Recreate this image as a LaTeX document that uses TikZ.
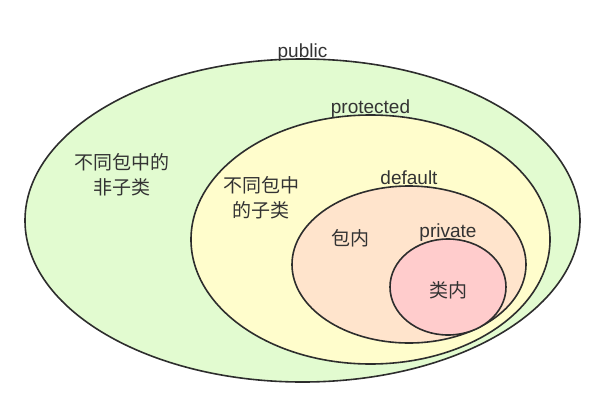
\documentclass[tikz,border=0pt]{standalone}
\usepackage{fontspec}
\setmainfont{Liberation Sans}
\newfontfamily\cjk{Noto Sans CJK SC}
\usetikzlibrary{shapes}
\definecolor{pubgreen}{RGB}{226,251,208}
\definecolor{proyellow}{RGB}{255,253,204}
\definecolor{defpeach}{RGB}{255,228,204}
\definecolor{pripink}{RGB}{255,204,204}
\definecolor{linegray}{RGB}{45,45,45}
\definecolor{textgray}{RGB}{51,51,51}

\begin{document}
\begin{tikzpicture}[x=1pt,y=-1pt,
    set/.style={ellipse,draw=linegray,line width=1.6pt,inner sep=0pt,outer sep=0pt},
    lbl/.style={text=textgray,font=\fontsize{19}{25}\selectfont,align=center},
    cn/.style={lbl,font=\cjk\fontsize{19}{25}\selectfont},
    tag/.style={lbl,anchor=base,yshift=2pt}]
    \useasboundingbox (0,0) rectangle (605,407);
    \node[set,fill=pubgreen,minimum width=555pt,minimum height=323pt] (public) at (302.5,220.5) {};
    \node[set,fill=proyellow,minimum width=359pt,minimum height=249pt] (protected) at (370.5,239.5) {};
    \node[set,fill=defpeach,minimum width=234pt,minimum height=157pt] (default) at (409,264.5) {};
    \node[set,fill=pripink,minimum width=116pt,minimum height=96pt] (private) at (448,287) {};

    \node[tag] (publictag) at (public.north) {public};
    \node[tag] (protectedtag) at (protected.north) {protected};
    \node[tag] (defaulttag) at (default.north) {default};
    \node[tag] (privatetag) at (private.north) {private};

    \node[cn] (other) at (122,175) {不同包中的\\非子类};
    \node[cn] (sub) at (261,197.5) {不同包中\\的子类};
    \node[cn] (pkg) at (350,238) {包内};
    \node[cn] (cls) at (448,290) {类内};
\end{tikzpicture}
\end{document}
